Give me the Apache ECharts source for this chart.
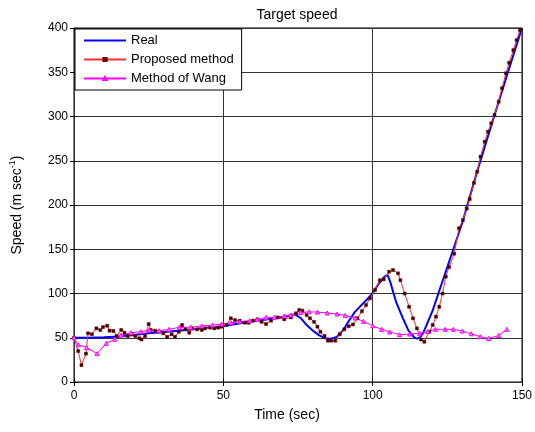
<!DOCTYPE html>
<html>
<head>
<meta charset="utf-8">
<script src="https://cdn.jsdelivr.net/npm/echarts@6/dist/echarts.min.js"></script>
<style>
  html, body { margin: 0; padding: 0; background: #fff; }
  #chart { width: 535px; height: 432px; }
</style>
</head>
<body>
<div id="chart"></div>
<script>
// real target speed (time in sec, speed)
var realT = [0, 5, 10, 15, 20, 25, 30, 35, 40, 45, 50, 55, 60, 65, 70, 74, 76, 78, 80, 82,
  84, 86, 88, 90, 92, 94, 96, 98, 100, 102, 104, 105, 106, 107, 108, 110, 112, 114, 115, 116,
  117, 118, 120, 122, 125, 130, 135, 140, 145, 150];
var realV = [50, 50, 50.5, 51.5, 53, 55, 56.5, 58, 59.5, 61.5, 63, 66, 68.5, 71, 73.5, 76.5, 72, 64, 58, 53,
  49.5, 49, 51, 58, 69, 79, 86, 93, 100, 111, 119, 121, 112, 100, 89, 73, 58, 50, 49, 51,
  56, 64, 80, 100, 130, 180, 238, 293, 347, 400];

// proposed method estimate
var propT = [0, 1.4, 2.5, 4, 4.7, 6, 7.5, 8.8, 9.7, 11.1,
  11.9, 13.2, 14.3, 15.8, 16.9, 18, 19.4, 20.5, 21.9, 22.6,
  23.8, 25, 25.7, 27.2, 28.5, 29.9, 31.2, 32.7, 33.8, 35.1,
  36.2, 37.3, 38.6, 39.5, 41.2, 42.8, 43.9, 45.6, 47, 48.3,
  49.4, 51, 52.5, 53.9, 55.5, 57.2, 58.5, 59.9, 61.4, 62.8,
  64.3, 66, 68.2, 70.4, 72.6, 74.3, 75.4, 76.5, 77.9, 79,
  80.4, 81.5, 82.5, 83.9, 85, 86.1, 87.5, 89, 90.5, 92,
  93.4, 94.9, 96.4, 97.8, 99.1, 100.8, 102.4, 103.7, 105.5, 106.8,
  108.5, 109.3, 110.7, 112.2, 113.5, 114.8, 116.2, 117.3, 119, 120.1,
  121.2, 122.3, 123.4, 124.5, 125.6, 127.3, 128.9, 130.2, 131.5, 132.5,
  133.9, 135, 136.1, 137.5, 138.6, 139.7, 140.8, 142.2, 143.3, 144.6,
  145.7, 147.1, 148.2, 149.3];
var propV = [50, 35, 19, 32, 55, 54, 60.6, 58.7, 62, 63.6,
  58, 57.6, 52, 58.8, 55.7, 52, 54, 52, 49.4, 48,
  52, 65.5, 58.8, 58, 56.8, 55, 51, 54, 51, 56.8,
  64.4, 59.5, 55.7, 60.6, 59.5, 58.8, 60.6, 61.4, 60.6, 61.4,
  62.5, 64.4, 72, 70, 69.3, 67, 67, 69.3, 70.8, 68,
  65.5, 69.3, 73, 70.8, 73, 77.6, 81.4, 80.6, 75.7, 72,
  68, 62.5, 56.8, 52, 46.7, 46.7, 46.7, 54, 59.5, 63,
  65, 72, 80, 87, 94.6, 104, 115, 116, 124.6, 126.5,
  122.8, 115, 100, 85, 72, 60.6, 48, 45.5, 56.8, 64.4,
  73.8, 85, 100, 119, 130, 145, 173.7, 183, 196, 206.8,
  225, 237.6, 254.6, 271.5, 282.8, 292.3, 301.7, 316.7, 331.9, 348.8,
  360.8, 375, 386.4, 397.7];

// method of Wang
var wangT = [0, 1.4, 4.2, 7.7, 10.8, 13.6, 15.8, 19.1, 22.4, 25.2,
  28.5, 31.8, 35.3, 39, 42.8, 46.4, 49.4, 52.7, 55.5, 58.8,
  61.4, 64.3, 67.1, 70.4, 72.6, 75.9, 78.7, 81.5, 84.8, 88.1,
  90.8, 94.1, 96.9, 100, 103, 105.7, 109, 112.4, 115.7, 118.4,
  121, 124.3, 127, 130, 133, 136, 138.8, 142.2, 144.9];
var wangV = [50, 42, 39, 32, 43.7, 48.2, 53, 55.7, 56.8, 58.8,
  58, 59.5, 61.8, 61.8, 63.3, 64.4, 65.5, 67, 68, 69.3,
  70.8, 73, 73, 74.6, 75.7, 78.5, 79.3, 79, 78, 76.8,
  75.2, 72.3, 68.5, 63.5, 59.5, 56.5, 53.5, 54.2, 55, 57,
  59.5, 59.5, 59.5, 57.5, 54.5, 51.2, 49.2, 52.5, 59.5];

var xTicks = [0, 50, 100, 150];

function pairs(t, v) {
    var out = [];
    for (var i = 0; i < t.length; i++) out.push([t[i], v[i]]);
    return out;
}

var myChart = echarts.init(document.getElementById('chart'));
var font = 'Liberation Sans, Arial, sans-serif';

var axisCommon = {
    type: 'value',
    axisLine: { show: false },
    axisTick: { show: true, inside: true, length: 4, lineStyle: { color: '#000' } }
};

var option = {
    backgroundColor: '#fff',
    animation: false,
    textStyle: { fontFamily: font },
    title: {
        text: 'Target speed',
        left: 292,
        textAlign: 'center',
        top: 3,
        textStyle: { fontFamily: font, fontSize: 14, fontWeight: 'normal', color: '#000' }
    },
    grid: {
        left: 74, right: 8, top: 28, bottom: 50,
        show: true, borderColor: '#000', borderWidth: 1, backgroundColor: '#fff'
    },
    legend: {
        orient: 'vertical',
        left: 75, top: 29,
        padding: [4, 8, 4, 8],
        itemGap: 4,
        itemWidth: 42,
        itemHeight: 4,
        backgroundColor: '#fff',
        borderColor: '#000',
        borderWidth: 1,
        borderRadius: 0,
        textStyle: { fontFamily: font, fontSize: 13, color: '#000', lineHeight: 15 },
        data: [
            { name: 'Real', icon: 'path://M0,0 L42,0 L42,2 L0,2 Z', itemStyle: { color: '#0000ff' } },
            'Proposed method',
            'Method of Wang'
        ]
    },
    xAxis: [Object.assign({}, axisCommon, {
        min: 0, max: 150, interval: 50,
        name: 'Time (sec)',
        nameLocation: 'middle',
        nameGap: 26,
        nameTextStyle: { fontFamily: font, fontSize: 14, color: '#000', padding: [0, 22, 0, 0] },
        axisLabel: { fontFamily: font, fontSize: 12, color: '#000', margin: 8,
            formatter: function (v) { return xTicks.indexOf(v) >= 0 ? String(v) : ''; } },
        splitLine: { show: true, lineStyle: { color: '#333', width: 1 } }
    }), Object.assign({}, axisCommon, {
        position: 'top', min: 0, max: 150, interval: 50,
        axisLabel: { show: false }, splitLine: { show: false }
    })],
    yAxis: [Object.assign({}, axisCommon, {
        min: 0, max: 400, interval: 50,
        name: '{a|Speed (m sec}{b|-1}{a|)}',
        nameLocation: 'middle',
        nameGap: 48,
        nameRotate: 90,
        nameTextStyle: {
            rich: {
                a: { fontFamily: font, fontSize: 14, color: '#000' },
                b: { fontFamily: font, fontSize: 9, color: '#000', padding: [0, 0, 9, 0] }
            }
        },
        axisLabel: { fontFamily: font, fontSize: 12, color: '#000', margin: 6 },
        splitLine: { show: true, lineStyle: { color: '#333', width: 1 } }
    }), Object.assign({}, axisCommon, {
        position: 'right', min: 0, max: 400, interval: 50,
        axisLabel: { show: false }, splitLine: { show: false }
    })],
    series: [{
        name: 'Real',
        type: 'line',
        data: pairs(realT, realV),
        showSymbol: false,
        symbol: 'none',
        lineStyle: { color: '#0000ff', width: 2 },
        itemStyle: { color: '#0000ff' }
    }, {
        name: 'Proposed method',
        type: 'line',
        data: pairs(propT, propV),
        symbol: 'rect',
        symbolSize: 3,
        lineStyle: { color: '#ff3030', width: 1 },
        itemStyle: { color: '#300', borderColor: '#700', borderWidth: 0.5 }
    }, {
        name: 'Method of Wang',
        type: 'line',
        data: pairs(wangT, wangV),
        symbol: 'triangle',
        symbolSize: 4,
        lineStyle: { color: '#ff00ff', width: 1 },
        itemStyle: { color: '#ff80ff', borderColor: '#ff00ff', borderWidth: 1 }
    }]
};

myChart.setOption(option);
</script>
</body>
</html>
